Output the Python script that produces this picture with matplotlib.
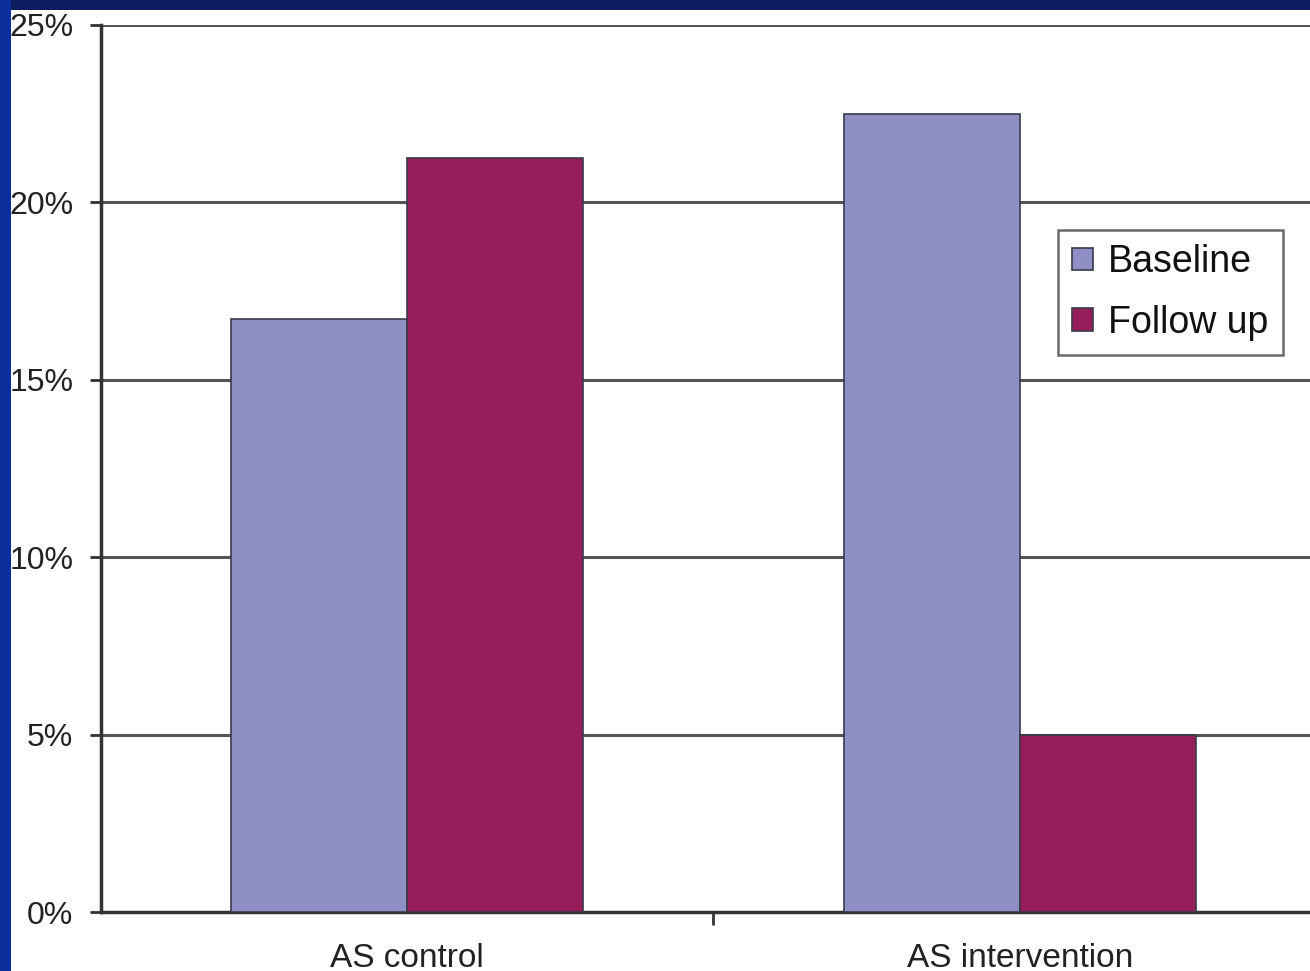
import matplotlib
matplotlib.use("Agg")
import matplotlib.pyplot as plt
from matplotlib.patches import Rectangle
from matplotlib.ticker import FuncFormatter, FixedLocator
import numpy as np

plt.rcParams['font.family'] = ['Liberation Sans', 'DejaVu Sans']

categories = ["AS control", "AS intervention"]
series_names = ["Baseline", "Follow up"]
baseline = [0.167, 0.225]
follow_up = [0.2125, 0.050]
y_ticks = [0.0, 0.05, 0.10, 0.15, 0.20, 0.25]

colors = ["#8f8fc6", "#961c5a"]
W, H = 1310, 971
fig = plt.figure(figsize=(W / 100, H / 100), dpi=100)
fig.patch.set_facecolor("white")

# slide frame: dark band along the top and the left edge
fig.patches.append(Rectangle((0, 1 - 10 / H), 1, 10 / H, transform=fig.transFigure,
                             facecolor="#0b1d5e", edgecolor="none", zorder=0))
fig.patches.append(Rectangle((0, 0), 11 / W, 1, transform=fig.transFigure,
                             facecolor="#0a2f9c", edgecolor="none", zorder=0))

ax = fig.add_axes([101 / W, 59 / H, 1225 / W, 887 / H])
ax.set_facecolor("white")

x = np.arange(len(categories))
bw = 0.287
ax.bar(x - bw / 2, baseline, bw, color=colors[0], edgecolor="#3a3a4a",
       linewidth=1.2, label=series_names[0], zorder=3)
ax.bar(x + bw / 2, follow_up, bw, color=colors[1], edgecolor="#3a3a4a",
       linewidth=1.2, label=series_names[1], zorder=3)

ax.set_xlim(-0.5, 1.5)
ax.set_ylim(0, 0.25)

ax.yaxis.set_major_locator(FixedLocator(y_ticks))
ax.yaxis.set_major_formatter(FuncFormatter(lambda v, p: f"{v * 100:.0f}%"))
ax.grid(axis="y", color="#555555", linewidth=2.2, zorder=0)
ax.set_axisbelow(True)

# category separators as major ticks, names as minor tick labels
ax.set_xticks([0.5])
ax.set_xticklabels([""])
ax.set_xticks(x, minor=True)
ax.set_xticklabels(categories, minor=True)
ax.tick_params(axis="x", which="major", length=9, width=2, color="#333333", direction="out")
ax.tick_params(axis="x", which="minor", length=0, pad=22, labelsize=24, labelcolor="#222222")
ax.tick_params(axis="y", length=8, width=2, color="#333333", pad=12,
               labelsize=23, labelcolor="#222222")

for s in ["top", "right"]:
    ax.spines[s].set_visible(False)
for s in ["left", "bottom"]:
    ax.spines[s].set_color("#333333")
    ax.spines[s].set_linewidth(2.5)

leg = ax.legend(loc="upper left", bbox_to_anchor=(1058 / W, 1 - 230 / H),
                bbox_transform=fig.transFigure, borderaxespad=0,
                fontsize=27, frameon=True, fancybox=False, handlelength=0.55,
                handleheight=0.55, handletextpad=0.4, borderpad=0.38,
                labelspacing=0.65)
leg.get_frame().set_edgecolor("#444444")
leg.get_frame().set_linewidth(1.8)
for t in leg.get_texts():
    t.set_color("#111111")

fig.savefig("out.png", dpi=100)
